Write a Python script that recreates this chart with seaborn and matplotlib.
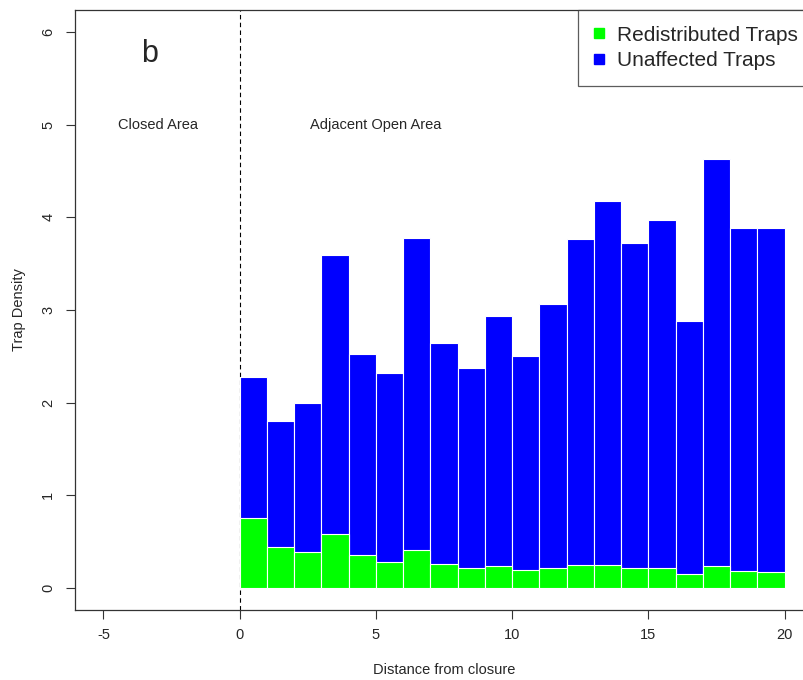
import matplotlib
matplotlib.use("Agg")
import matplotlib.pyplot as plt
from matplotlib.lines import Line2D
import seaborn as sns
import pandas as pd

# ---- data ----
bin_left = list(range(20))
total_density = [2.28, 1.80, 2.00, 3.59, 2.53, 2.32, 3.78, 2.64, 2.37, 2.94,
                 2.50, 3.07, 3.77, 4.18, 3.72, 3.97, 2.88, 4.63, 3.89, 3.89]
redistributed = [0.75, 0.44, 0.39, 0.58, 0.35, 0.28, 0.41, 0.26, 0.21, 0.24,
                 0.19, 0.21, 0.25, 0.25, 0.21, 0.21, 0.15, 0.23, 0.18, 0.17]
x_ticks = [-5, 0, 5, 10, 15, 20]
y_ticks = [0, 1, 2, 3, 4, 5, 6]
legend_labels = ["Redistributed Traps", "Unaffected Traps"]
colors = ["#00FF00", "#0000FF"]

df = pd.DataFrame({
    "center": [b + 0.5 for b in bin_left],
    "total": total_density,
    "redist": redistributed,
})

sns.set_style("ticks")
plt.rcParams["font.family"] = ["Liberation Sans", "DejaVu Sans"]

fig = plt.figure(figsize=(8.04, 6.80), dpi=100)
ax = fig.add_axes([75.1 / 804, 70 / 680, 765.2 / 804, 600 / 680])

sns.barplot(data=df, x="center", y="total", native_scale=True, width=1,
            color=colors[1], saturation=1, edgecolor="white", linewidth=0.8,
            ax=ax, errorbar=None)
sns.barplot(data=df, x="center", y="redist", native_scale=True, width=1,
            color=colors[0], saturation=1, edgecolor="white", linewidth=0.8,
            ax=ax, errorbar=None)

ax.axvline(0, color="black", lw=0.8, ls=(0, (4, 3)), zorder=0.5)

ax.set_xlim(-6.04, 22.04)
ax.set_ylim(-0.24, 6.24)
ax.set_xticks(x_ticks)
ax.set_xticklabels([str(v) for v in x_ticks])
ax.set_yticks(y_ticks)
ax.set_yticklabels([str(v) for v in y_ticks], rotation=90, va="center")
ax.tick_params(axis="both", length=6.3, width=0.8, color="#333333",
               labelsize=10.5, direction="out")
ax.tick_params(axis="x", pad=7)
ax.tick_params(axis="y", pad=8)

for s in ax.spines.values():
    s.set_visible(True)
    s.set_color("#333333")
    s.set_linewidth(0.9)

ax.set_xlabel("Distance from closure", fontsize=10.5)
ax.set_ylabel("Trap Density", fontsize=10.5)
ax.xaxis.set_label_coords(0.482, -0.088)
ax.yaxis.set_label_coords(-0.064, 0.5)

ax.text(-3.3, 5.76, "b", fontsize=22, ha="center", va="center")
ax.text(-3.0, 5.0, "Closed Area", fontsize=10.5, ha="center", va="center")
ax.text(5.0, 5.0, "Adjacent Open Area", fontsize=10.5, ha="center", va="center")

handles = [Line2D([0], [0], marker="s", ls="none", markersize=7.5,
                  markerfacecolor=c, markeredgecolor=c) for c in colors]
leg = ax.legend(handles, legend_labels, loc="upper left",
                bbox_to_anchor=(0.657, 1.0), borderaxespad=0,
                fontsize=15, frameon=True, fancybox=False,
                handlelength=0.5, handletextpad=0.65, labelspacing=0.3,
                borderpad=0.75)
leg.get_frame().set_edgecolor("#333333")
leg.get_frame().set_linewidth(0.9)

fig.savefig("out.png", dpi=100)
